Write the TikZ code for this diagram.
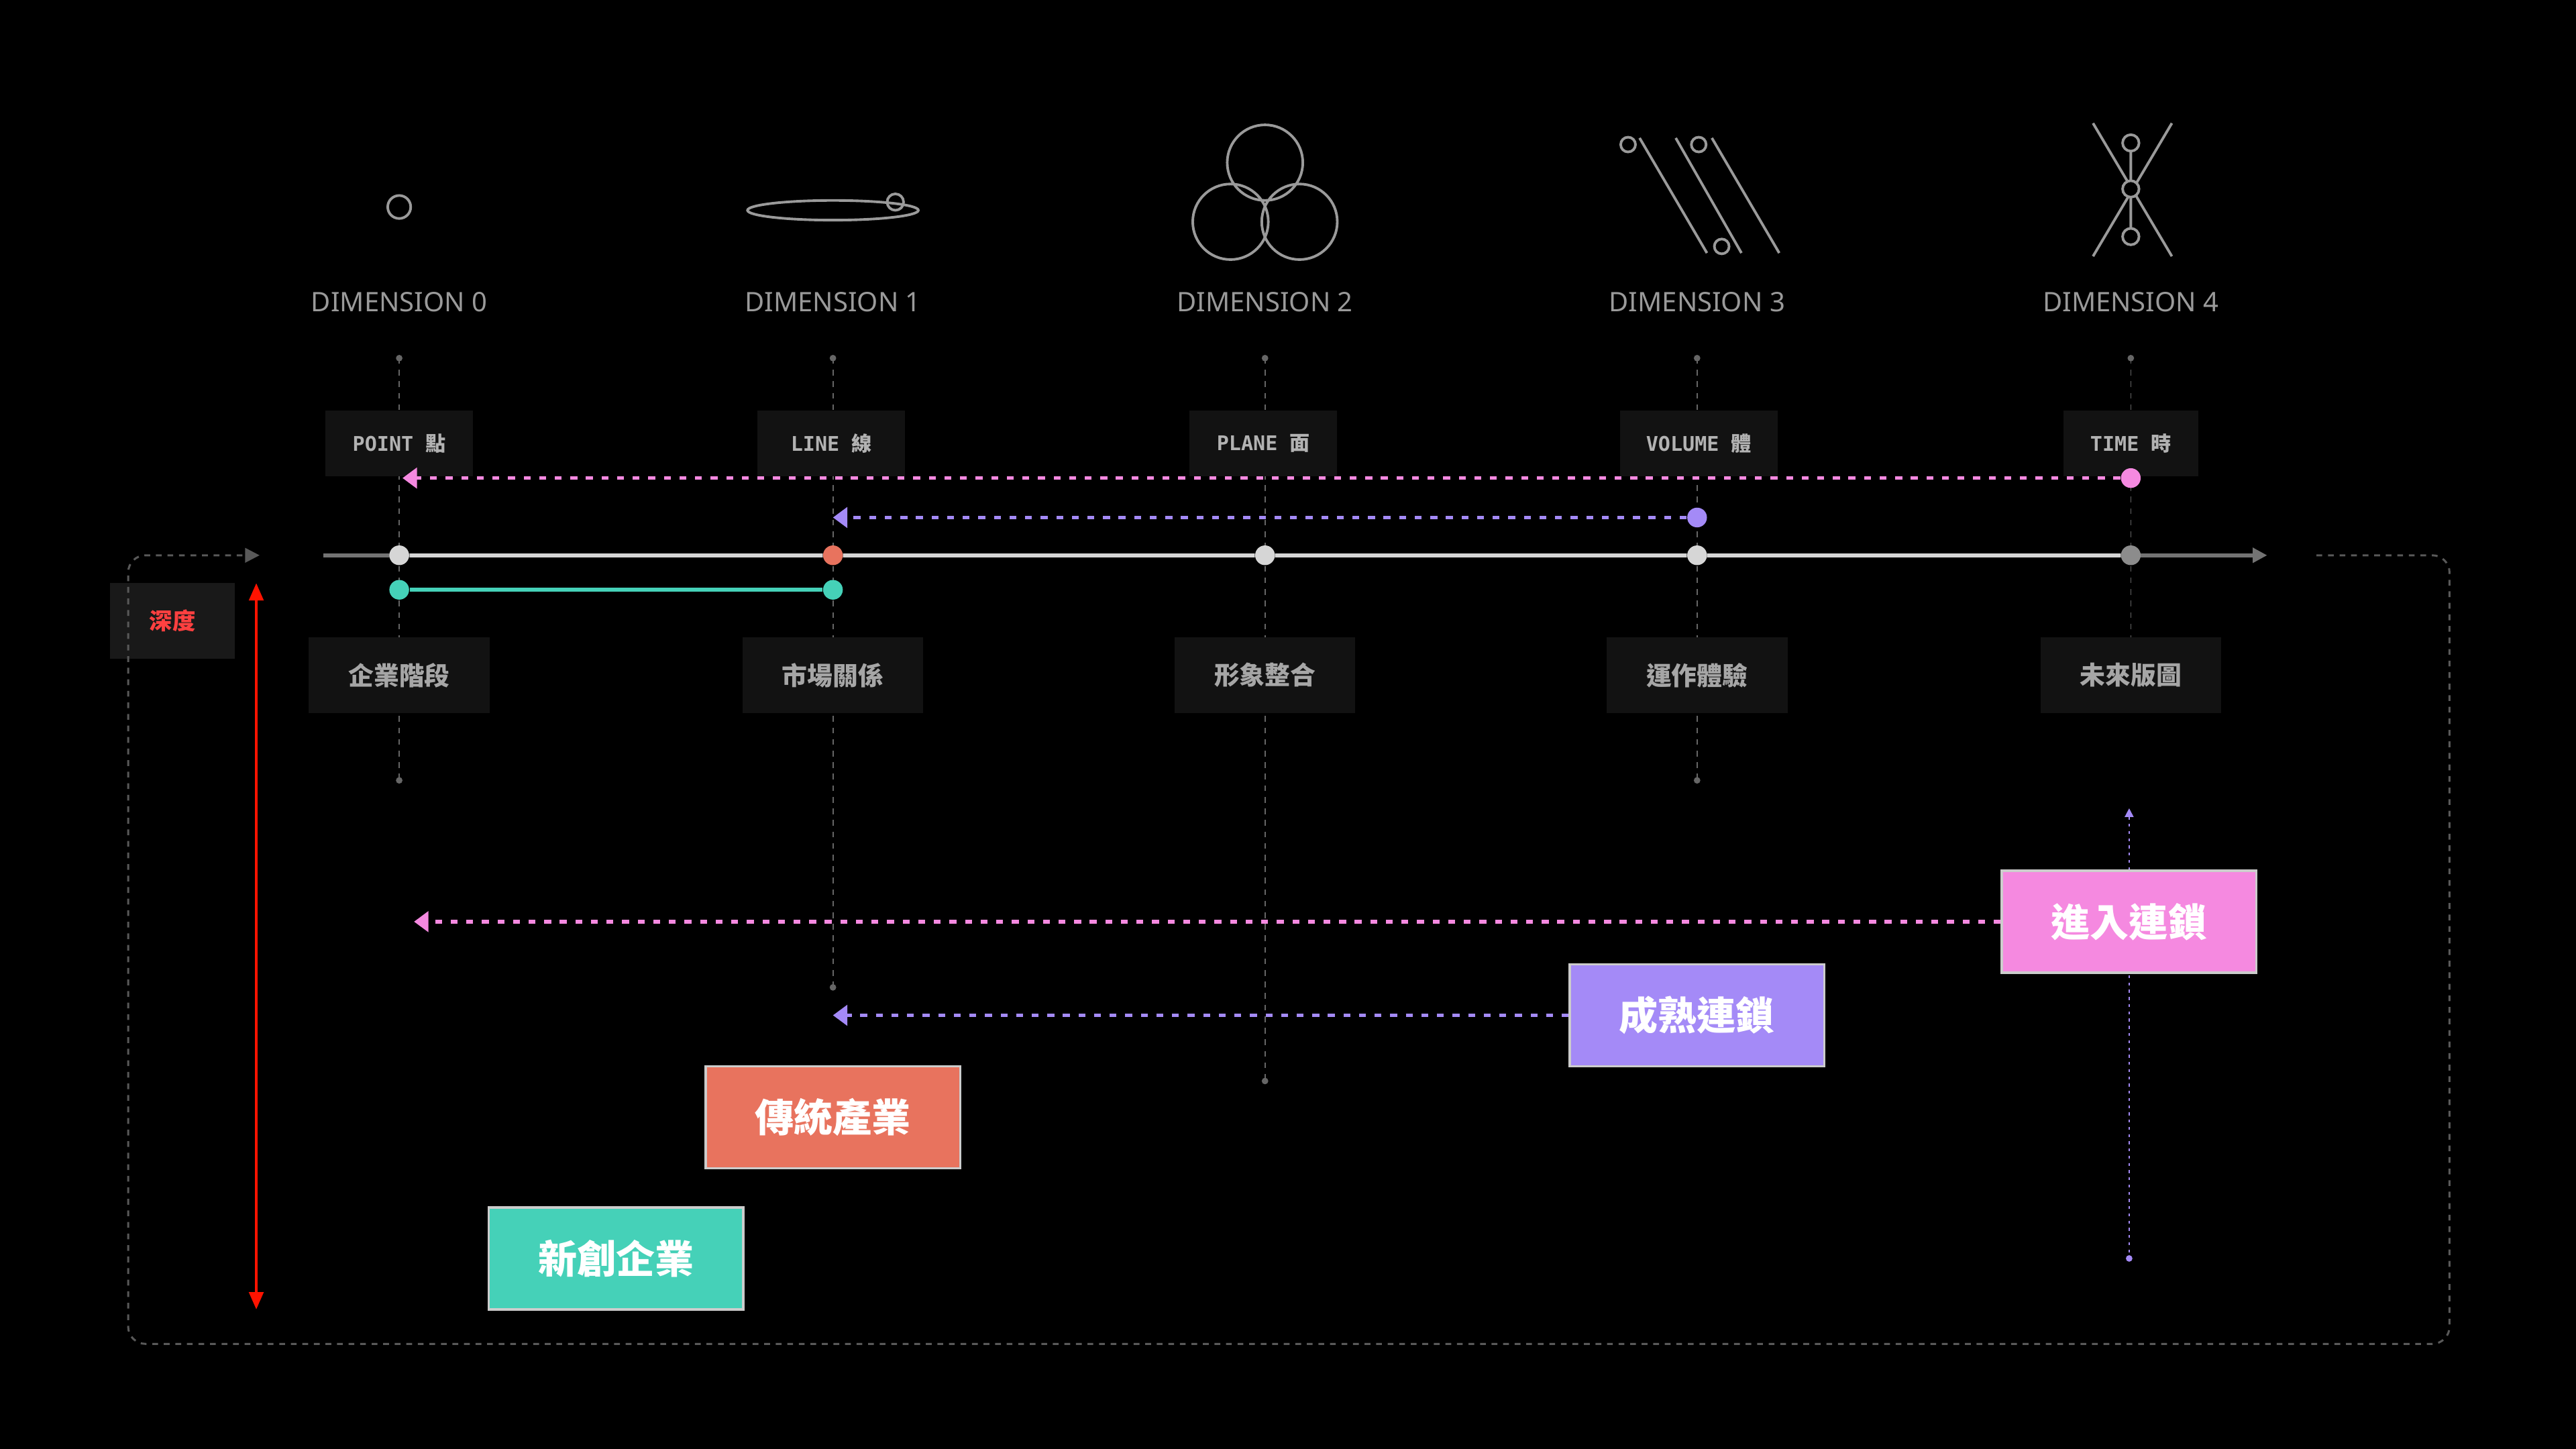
\documentclass[tikz,border=0pt]{standalone}
\usepackage{fontspec}
\setmainfont{Noto Sans}
\newfontfamily\cjk{Noto Sans CJK TC}
\newfontfamily\mono{DejaVu Sans Mono}
\usetikzlibrary{arrows.meta}
\definecolor{pk}{HTML}{F589E0}
\definecolor{pu}{HTML}{A48AF7}
\definecolor{orr}{HTML}{E8735E}
\definecolor{tl}{HTML}{45D1B8}
\definecolor{lg}{HTML}{D6D6D6}
\definecolor{ic}{HTML}{9A9A9A}
\definecolor{bx}{HTML}{121212}
\begin{document}
\begin{tikzpicture}[x=0.02cm,y=-0.02cm,
 icon/.style={draw=ic,line width=0.9pt},
 dim/.style={text=ic,font=\fontsize{9.3}{10}\selectfont},
 guide/.style={draw=white!40!black,dash pattern=on 2pt off 2pt,line width=0.4pt},
 tag/.style={fill=bx,minimum width=90*0.02cm,minimum height=40*0.02cm,text=white!70!black,font=\fontsize{7}{8}\selectfont\bfseries},
 lab/.style={fill=bx,minimum width=110*0.02cm,minimum height=46*0.02cm,text=white!65!black,font=\cjk\fontsize{8.8}{9}\selectfont\bfseries},
 cbox/.style={draw=white!80!black,line width=0.8pt,minimum width=155*0.02cm,minimum height=62*0.02cm,text=white,font=\cjk\fontsize{13.5}{14}\selectfont\bfseries},
 dot/.style={circle,inner sep=0pt,minimum size=12*0.02cm},
 dotted arrow/.style={line width=1.3pt,dash pattern=on 2.4pt off 3pt,-{Triangle[width=7pt,length=5pt]}},
]
\fill[black] (0,0) rectangle (1568,882);
% icons
\draw[icon] (243,126) circle[radius=7];
\draw[icon] (507,128) ellipse[x radius=52,y radius=6];
\draw[icon] (545,123) circle[radius=5];
\draw[icon] (770,99) circle[radius=23] (749,135) circle[radius=23] (791,135) circle[radius=23];
\draw[icon] (998,84)--(1039,154) (1020,84)--(1060,154) (1042,84)--(1083,154);
\draw[icon] (991,88) circle[radius=4.5] (1034,88) circle[radius=4.5] (1048,150) circle[radius=4.5];
\draw[icon] (1274,75)--(1322,156) (1322,75)--(1274,156) (1297,87)--(1297,144);
\draw[icon,fill=black] (1297,87) circle[radius=5] (1297,115) circle[radius=5] (1297,144) circle[radius=5];
% dimension labels
\foreach \x/\n in {243/0,507/1,770/2,1033/3,1297/4}
  \node[dim] (d\n) at (\x,184) {DIMENSION \n};
% guides
\foreach \x/\e/\n in {243/475/0,507/601/1,770/658/2,1033/475/3,1297/430/4}{
  \coordinate (gt\n) at (\x,218); \coordinate (gb\n) at (\x,\e);
  \draw[guide] (gt\n)--(gb\n);
  \fill[white!40!black] (gt\n) circle[radius=2];
}
\foreach \n in {0,1,2,3} \fill[white!40!black] (gb\n) circle[radius=2];
% top tags
\node[tag] (t0) at (243,270) {\mono POINT {\cjk 點}};
\node[tag] (t1) at (506,270) {\mono LINE {\cjk 線}};
\node[tag] (t2) at (769,270) {\mono PLANE {\cjk 面}};
\node[tag,minimum width=96*0.02cm] (t3) at (1034,270) {\mono VOLUME {\cjk 體}};
\node[tag,minimum width=82*0.02cm] (t4) at (1297,270) {\mono TIME {\cjk 時}};
% main axis
\coordinate (axL) at (197,338); \coordinate (axR) at (1380,338);
\draw[white!45!black,line width=1.3pt,-{Triangle[width=5pt,length=5pt]}] (axL)--(axR);
\node[dot,fill=lg] (p0) at (243,338) {};
\node[dot,fill=orr] (p1) at (507,338) {};
\node[dot,fill=lg] (p2) at (770,338) {};
\node[dot,fill=lg] (p3) at (1033,338) {};
\node[dot,fill=white!55!black] (p4) at (1297,338) {};
\draw[lg,line width=1.3pt] (p0)--(p1)--(p2)--(p3)--(p4);
% teal
\node[dot,fill=tl] (s0) at (243,359) {};
\node[dot,fill=tl] (s1) at (507,359) {};
\draw[tl,line width=1.5pt] (s0)--(s1);
% top dotted arrows
\node[dot,fill=pk] (q4) at (1297,291) {};
\coordinate (q0) at (245,291);
\draw[pk,dotted arrow] (q4)--(q0);
\node[dot,fill=pu] (r3) at (1033,315) {};
\coordinate (r1) at (507,315);
\draw[pu,dotted arrow] (r3)--(r1);
% bottom labels
\node[lab] (l0) at (243,411) {企業階段};
\node[lab] (l1) at (507,411) {市場關係};
\node[lab] (l2) at (770,411) {形象整合};
\node[lab] (l3) at (1033,411) {運作體驗};
\node[lab] (l4) at (1297,411) {未來版圖};
% depth
\node[fill=white!10!black,minimum width=76*0.02cm,minimum height=46*0.02cm,text=red!75!white,font=\cjk\fontsize{8}{9}\selectfont\bfseries] (dp) at (105,378) {深度};
\coordinate (ra) at (156,355); \coordinate (rb) at (156,797);
\draw[red!85!orange,line width=0.9pt,{Triangle[width=5pt,length=6pt]}-{Triangle[width=5pt,length=6pt]}] (rb)--(ra);
% frame
\coordinate (f1) at (1410,338); \coordinate (f2) at (158,338);
\draw[white!35!black,line width=0.7pt,dash pattern=on 2pt off 2pt,rounded corners=6pt,-{Triangle[width=5pt,length=5pt]}] (f1)--(1491,338)--(1491,818)--(78,818)--(78,338)--(f2);
% purple time line
\coordinate (v1) at (1296,492); \coordinate (v2) at (1296,766);
\draw[pu,line width=0.5pt,dash pattern=on 1pt off 1.5pt,{Triangle[width=3pt,length=3pt]}-] (v1)--(v2);
\fill[pu] (v2) circle[radius=2];
% coloured boxes
\node[cbox,fill=pk] (b4) at (1296,561) {進入連鎖};
\node[cbox,fill=pu] (b3) at (1033,618) {成熟連鎖};
\node[cbox,fill=orr] (b1) at (507,680) {傳統產業};
\node[cbox,fill=tl] (b0) at (375,766) {新創企業};
\coordinate (e4) at (252,561); \coordinate (e3) at (507,618);
\draw[pk,dotted arrow] (b4.west)--(e4);
\draw[pu,dotted arrow] (b3.west)--(e3);
\end{tikzpicture}
\end{document}
